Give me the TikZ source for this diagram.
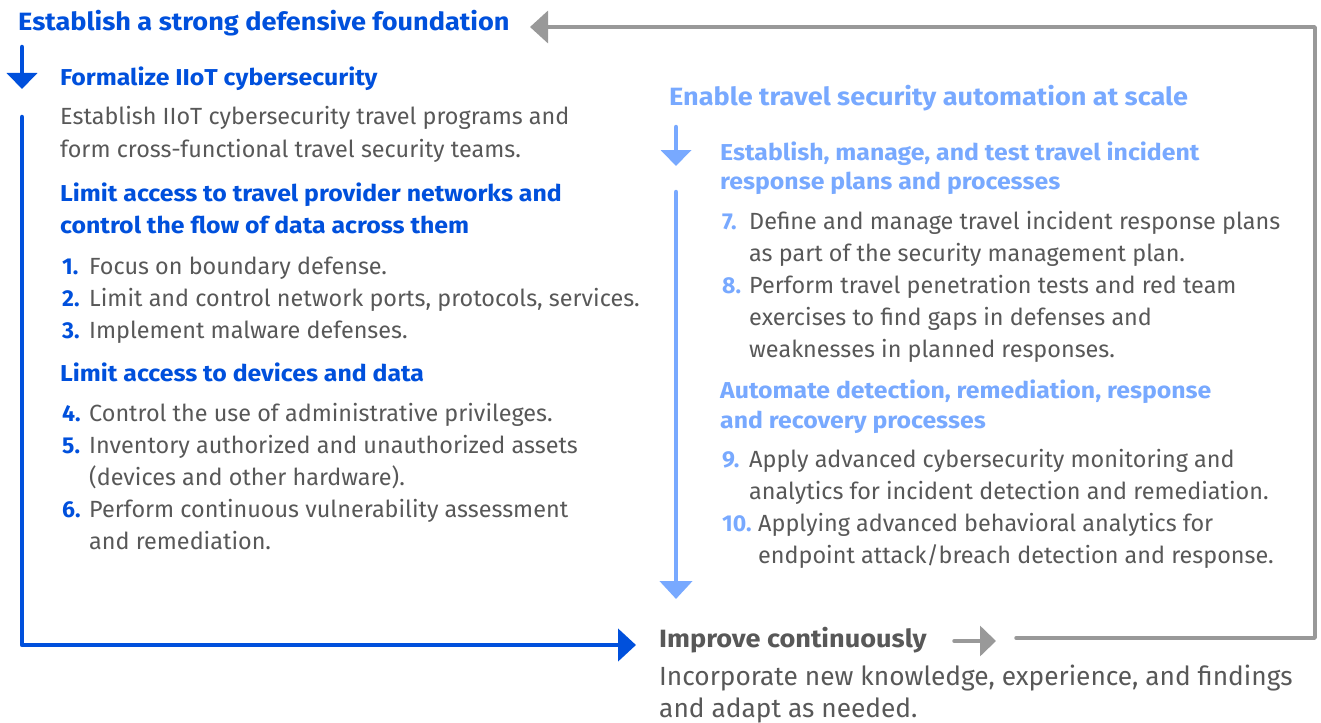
\documentclass[tikz,border=0pt]{standalone}
\usepackage{fontspec}
\setmainfont{Fira Sans}
\newfontfamily\titlefont[FakeStretch=1.085]{Fira Sans}
\newfontfamily\headfont[FakeStretch=1.08]{Fira Sans}
\usetikzlibrary{arrows.meta}
\definecolor{deepblue}{RGB}{0,80,220}
\definecolor{paleblue}{RGB}{120,169,255}
\definecolor{textgray}{RGB}{88,88,88}
\definecolor{loopgray}{RGB}{153,153,153}
\begin{document}
\begin{tikzpicture}[x=1bp,y=-1bp,
  every node/.style={inner sep=0pt, anchor=base west},
  bigtitle/.style={font=\titlefont\bfseries\fontsize{25bp}{30bp}\selectfont},
  subhead/.style={font=\headfont\bfseries\fontsize{23bp}{27bp}\selectfont},
  bodytext/.style={text=textgray, font=\fontsize{23.4bp}{28bp}\selectfont},
  closetext/.style={text=textgray, font=\fontsize{26.3bp}{31bp}\selectfont},
  numlabel/.style={font=\bfseries\fontsize{23bp}{27bp}\selectfont},
  flow/.style={line width=4.5bp, line cap=round},
  smallhead/.style={-{Triangle[length=16bp,width=30bp]}},
  bighead/.style={-{Triangle[length=18bp,width=32bp]}}
]
\useasboundingbox (0,0) rectangle (1321,722);

% ---- left column: defensive foundation ----
\node[bigtitle, text=deepblue] (found) at (18,31) {Establish a strong defensive foundation};
\node[subhead, text=deepblue] (formal) at (60,86) {Formalize IIoT cybersecurity};
\node[bodytext] (formalA) at (60,125) {Establish IIoT cybersecurity travel programs and};
\node[bodytext] (formalB) at (60,157) {form cross-functional travel security teams.};
\node[subhead, text=deepblue] (netA) at (60,201) {Limit access to travel provider networks and};
\node[subhead, text=deepblue] (netB) at (60,233) {control the flow of data across them};
\node[numlabel, text=deepblue] (n1) at (62,274) {1.};
\node[bodytext] (t1) at (89,274) {Focus on boundary defense.};
\node[numlabel, text=deepblue] (n2) at (62,306) {2.};
\node[bodytext] (t2) at (89,306) {Limit and control network ports, protocols, services.};
\node[numlabel, text=deepblue] (n3) at (62,338) {3.};
\node[bodytext] (t3) at (89,338) {Implement malware defenses.};
\node[subhead, text=deepblue] (dev) at (60,381) {Limit access to devices and data};
\node[numlabel, text=deepblue] (n4) at (62,421) {4.};
\node[bodytext] (t4) at (89,421) {Control the use of administrative privileges.};
\node[numlabel, text=deepblue] (n5) at (62,453) {5.};
\node[bodytext] (t5a) at (89,453) {Inventory authorized and unauthorized assets};
\node[bodytext] (t5b) at (89,485) {(devices and other hardware).};
\node[numlabel, text=deepblue] (n6) at (62,517) {6.};
\node[bodytext] (t6a) at (89,517) {Perform continuous vulnerability assessment};
\node[bodytext] (t6b) at (89,549) {and remediation.};

% ---- right column: automation at scale ----
\node[bigtitle, text=paleblue] (auto) at (669,106) {Enable travel security automation at scale};
\node[subhead, text=paleblue] (planA) at (720,160) {Establish, manage, and test travel incident};
\node[subhead, text=paleblue] (planB) at (720,189) {response plans and processes};
\node[numlabel, text=paleblue] (n7) at (722,229) {7.};
\node[bodytext] (t7a) at (749,229) {Define and manage travel incident response plans};
\node[bodytext] (t7b) at (749,261) {as part of the security management plan.};
\node[numlabel, text=paleblue] (n8) at (722,293) {8.};
\node[bodytext] (t8a) at (749,293) {Perform travel penetration tests and red team};
\node[bodytext] (t8b) at (749,325) {exercises to find gaps in defenses and};
\node[bodytext] (t8c) at (749,357) {weaknesses in planned responses.};
\node[subhead, text=paleblue] (detA) at (720,398) {Automate detection, remediation, response};
\node[subhead, text=paleblue] (detB) at (720,428) {and recovery processes};
\node[numlabel, text=paleblue] (n9) at (722,467) {9.};
\node[bodytext] (t9a) at (749,467) {Apply advanced cybersecurity monitoring and};
\node[bodytext] (t9b) at (749,499) {analytics for incident detection and remediation.};
\node[numlabel, text=paleblue] (n10) at (722,531) {10.};
\node[bodytext] (t10a) at (758,531) {Applying advanced behavioral analytics for};
\node[bodytext] (t10b) at (758,563) {endpoint attack/breach detection and response.};

% ---- bottom: continuous improvement ----
\node[bigtitle, text=textgray] (impr) at (659,647) {Improve continuously};
\node[closetext] (imprA) at (659,685) {Incorporate new knowledge, experience, and findings};
\node[closetext] (imprB) at (659,717) {and adapt as needed.};

% ---- connector end points ----
\coordinate (bs1) at (22,47);   \coordinate (be1) at (22,89);
\coordinate (bs2) at (22,117);  \coordinate (bc2) at (22,645);  \coordinate (be2) at (636,645);
\coordinate (ls1) at (676,127); \coordinate (le1) at (676,166);
\coordinate (ls2) at (676,192); \coordinate (le2) at (676,599);
\coordinate (gs) at (954,641);  \coordinate (ge) at (996,641);
\coordinate (ls) at (1016,638); \coordinate (lc1) at (1315,638);
\coordinate (lc2) at (1315,27); \coordinate (le) at (530,27);

% ---- arrows ----
\draw[flow, deepblue, smallhead] (bs1) -- (be1);
\draw[flow, deepblue, bighead, line join=round] (bs2) -- (bc2) -- (be2);
\draw[flow, paleblue, smallhead] (ls1) -- (le1);
\draw[flow, paleblue, bighead] (ls2) -- (le2);
\draw[flow, loopgray, line width=3.5bp, smallhead] (gs) -- (ge);
\draw[flow, loopgray, line width=3.5bp, bighead, line join=round] (ls) -- (lc1) -- (lc2) -- (le);
\end{tikzpicture}
\end{document}
